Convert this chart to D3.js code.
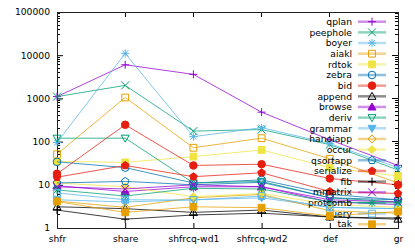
<!DOCTYPE html>
<html><head><meta charset="utf-8">
<script src="https://cdn.jsdelivr.net/npm/d3@7"></script>
<style>body{margin:0;background:#fff}svg{display:block}text{font-family:"DejaVu Sans",sans-serif}</style>
</head><body><svg id="c" width="415" height="249"></svg>
<script>
const categories = ["shfr","share","shfrcq-wd1","shfrcq-wd2","def","gr"];
const seriesNames = ["qplan","peephole","boyer","aiakl","rdtok","zebra","bid","append","browse","deriv","grammar","hanoiapp","occur","qsortapp","serialize","fib","mmatrix","protcomb","query","tak"];
const qplan     = [1100, 6000, 3600, 480, 110, 28];
const peephole  = [1100, 2000, 175, 190, 85, 22];
const boyer     = [95, 11000, 130, 210, 90, 25];
const aiakl     = [51, 1050, 72, 120, 40, 11];
const rdtok     = [35, 33, 45, 64, 25, 16];
const zebra     = [34, 25, 11, 13, 6, 4.5];
const bid       = [18, 245, 28, 30, 14, 10];
const append    = [3.1, 2.8, 2.3, 2.6, 1.8, 1.6];
const browse    = [9.5, 7, 9, 9, 4, 3.5];
const deriv     = [120, 120, 11, 12, 5, 4];
const grammar   = [4.5, 4, 4.5, 5, 3, 2.8];
const hanoiapp  = [4.2, 3, 5, 6, 2.5, 2.2];
const occur     = [11, 9, 5.3, 6.3, 3.5, 3];
const qsortapp  = [11, 12, 10, 11.4, 5, 4.5];
const serialize = [15, 28, 15.4, 19, 7, 6.3];
const fib       = [2.6, 1.6, 2, 2.2, 1.8, 1.7];
const mmatrix   = [9, 8, 10, 9, 4.5, 4];
const protcomb  = [7.6, 5.5, 8.3, 8, 4, 3.8];
const query     = [6.5, 4.5, 4.45, 5.5, 3, 2.8];
const tak       = [4.1, 2.3, 3.1, 2.95, 1.9, 2.4];
const yTickValues = [1, 10, 100, 1000, 10000, 100000];

const seriesValues = [qplan,peephole,boyer,aiakl,rdtok,zebra,bid,append,browse,deriv,grammar,hanoiapp,occur,qsortapp,serialize,fib,mmatrix,protcomb,query,tak];
const palette = ["#9400d3","#009e73","#56b4e9","#e69f00","#f0e442","#0072b2","#e51e10","#000000"];
const svg = d3.select("#c");
const L = 57, R = 398, T = 12, B = 228;
const x = d3.scalePoint().domain(categories).range([L, R]).padding(0);
const y = d3.scaleLog().domain([1, 100000]).range([B, T]);

// minor ticks
const minor = [];
for (let d = 1; d < 100000; d *= 10) for (let k = 2; k <= 9; k++) minor.push(d * k);
const g = svg.append("g");
g.selectAll(".mn").data(minor).join("path")
  .attr("d", v => `M${L},${y(v)}h3M${R},${y(v)}h-3`).attr("stroke", "#000").attr("stroke-width", 1).attr("shape-rendering","crispEdges");

const ya = d3.axisLeft(y).tickValues(yTickValues).tickFormat(d3.format("d")).tickSize(-6).tickPadding(7);
const yg = svg.append("g").attr("transform", `translate(${L},0)`).call(ya);
yg.select(".domain").remove();
yg.selectAll("text").attr("font-size", 9.2).attr("font-family", "DejaVu Sans").attr("fill","#000");
svg.append("g").selectAll("path").data(yTickValues).join("path")
  .attr("d", v => `M${R},${y(v)}h-6`).attr("stroke","#000").attr("shape-rendering","crispEdges");

const xa = d3.axisBottom(x).tickSize(-5).tickPadding(7);
const xg = svg.append("g").attr("transform", `translate(0,${B})`).call(xa);
xg.select(".domain").remove();
xg.selectAll("text").attr("font-size", 9.2).attr("font-family", "DejaVu Sans").attr("fill","#000");
svg.append("g").selectAll("path").data(categories).join("path")
  .attr("d", c => `M${x(c)},${T}v5`).attr("stroke","#000").attr("shape-rendering","crispEdges");

svg.append("rect").attr("x", L).attr("y", T).attr("width", R - L).attr("height", B - T)
  .attr("fill","none").attr("stroke","#222").attr("stroke-width",1).attr("shape-rendering","crispEdges");

function marker(i, s) {
  const t = i % 15; // point type index 0..14 (gnuplot pt 1..15)
  const h = s;
  switch (t) {
    case 0: return {d:`M${-h},0H${h}M0,${-h}V${h}`, fill:false};
    case 1: return {d:`M${-h},${-h}L${h},${h}M${-h},${h}L${h},${-h}`, fill:false};
    case 2: return {d:`M${-h},0H${h}M0,${-h}V${h}M${-h*0.75},${-h*0.75}L${h*0.75},${h*0.75}M${-h*0.75},${h*0.75}L${h*0.75},${-h*0.75}`, fill:false};
    case 3: case 4: return {d:`M${-h*0.85},${-h*0.85}h${1.7*h}v${1.7*h}h${-1.7*h}Z`, fill:t===4};
    case 5: case 6: return {d:d3.symbol(d3.symbolCircle, Math.PI*h*h*0.9)(), fill:t===6};
    case 7: case 8: return {d:`M0,${-h}L${h},${h*0.75}L${-h},${h*0.75}Z`, fill:t===8};
    case 9: case 10: return {d:`M0,${h}L${h},${-h*0.75}L${-h},${-h*0.75}Z`, fill:t===10};
    case 11: case 12: return {d:`M0,${-h}L${h},0L0,${h}L${-h},0Z`, fill:t===12};
    default: {
      const pts = d3.range(5).map(k => { const a = -Math.PI/2 + k*2*Math.PI/5; return [h*Math.cos(a), h*Math.sin(a)]; });
      return {d:"M"+pts.map(p=>p.join(",")).join("L")+"Z", fill:t===14};
    }
  }
}

const line = d3.line().x((d,i) => x(categories[i])).y(d => y(d));
seriesNames.forEach((name, i) => {
  const col = palette[i % 8];
  const vals = seriesValues[i];
  const m = marker(i, 4);
  const sg = svg.append("g");
  sg.append("path").datum(vals).attr("d", line).attr("fill","none").attr("stroke", col).attr("stroke-width",1).attr("stroke-opacity",0.75);
  sg.selectAll("path.pt").data(vals).join("path").attr("class","pt")
    .attr("transform", (d,j) => `translate(${x(categories[j])},${y(d)})`)
    .attr("d", m.d).attr("fill", m.fill ? col : "none").attr("stroke", col).attr("stroke-width", 1);
  // legend
  const ly = 21.7 + 10.66 * i;
  const lg = svg.append("g");
  lg.append("text").attr("x", 352).attr("y", ly).attr("dy","0.35em").attr("text-anchor","end")
    .attr("font-size", 9.2).attr("fill","#000").text(name);
  lg.append("line").attr("x1",358).attr("x2",386).attr("y1",ly).attr("y2",ly)
    .attr("stroke", col).attr("stroke-width",2.5).attr("stroke-opacity",0.45);
  lg.append("path").attr("transform",`translate(372,${ly})`).attr("d", m.d)
    .attr("fill", m.fill ? col : "none").attr("stroke", col).attr("stroke-width",1);
});
</script></body></html>
